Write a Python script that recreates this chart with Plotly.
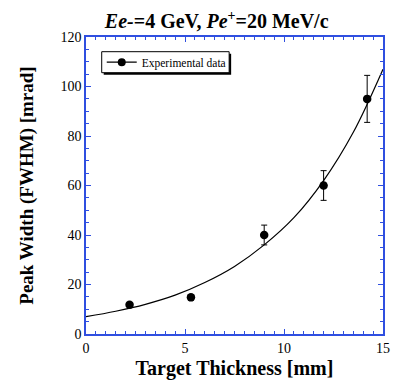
import plotly.graph_objects as go

# Experimental data
thickness = [2.2, 5.3, 9.0, 12.0, 14.2]
width = [11.8, 14.8, 40.0, 60.0, 95.0]
width_err = [0.8, 1.0, 4.0, 6.0, 9.5]

# Fit curve
fit_x = [0, 1.5, 3, 4.5, 6, 7.5, 9, 10.5, 12, 13.5, 15]
fit_y = [7.0, 9.2, 12.0, 15.7, 20.8, 27.3, 36.0, 47.0, 62.0, 81.5, 107.0]

x_ticks = [0, 5, 10, 15]
y_ticks = [0, 20, 40, 60, 80, 100, 120]

FONT = "Liberation Serif"
FRAME = "#2f4fe0"

fig = go.Figure()
fig.add_trace(go.Scatter(x=fit_x, y=fit_y, mode="lines", line=dict(color="black", width=1.2, shape="spline"),
                         showlegend=False, hoverinfo="skip"))
fig.add_trace(go.Scatter(x=thickness, y=width, mode="markers",
                         marker=dict(color="black", size=8.5),
                         error_y=dict(type="data", array=width_err, color="black", thickness=1, width=3),
                         showlegend=False))
fig.add_trace(go.Scatter(x=[None], y=[None], mode="lines+markers", name="Experimental data",
                         line=dict(color="black", width=1.2), marker=dict(color="black", size=8)))

axis_common = dict(showline=True, linecolor=FRAME, linewidth=1.5, mirror="allticks",
                   ticks="inside", tickcolor=FRAME, ticklen=5, tickwidth=1,
                   showgrid=False, zeroline=False, automargin=False,
                   tickfont=dict(family=FONT, size=14, color="black"))

fig.update_xaxes(range=[0, 15], tickvals=x_ticks, **axis_common,
                 minor=dict(dtick=0.5, ticks="inside", ticklen=3, tickcolor=FRAME),
                 title=dict(text="<b>Target Thickness [mm]</b>", font=dict(family=FONT, size=20, color="black"), standoff=6))
fig.update_yaxes(range=[0, 120], tickvals=y_ticks, **axis_common,
                 minor=dict(dtick=5, ticks="inside", ticklen=3, tickcolor=FRAME),
                 title=dict(text="<b>Peak Width (FWHM) [mrad]</b>", font=dict(family=FONT, size=19, color="black"), standoff=22))

# legend frame with drop shadow (paper coordinates)
fig.add_shape(type="rect", xref="paper", yref="paper", x0=0.0596, x1=0.4887, y0=0.873, y1=0.9438,
              fillcolor="black", line=dict(width=0), layer="above")
fig.add_shape(type="rect", xref="paper", yref="paper", x0=0.0529, x1=0.482, y0=0.8798, y1=0.9505,
              fillcolor="white", line=dict(width=1, color="black"), layer="above")

fig.update_layout(
    width=394, height=380,
    margin=dict(l=86, r=11, t=37, b=46),
    plot_bgcolor="white", paper_bgcolor="white",
    title=dict(text="<b><i>Ee-</i>=4 GeV, <i>Pe</i><sup>+</sup>=20 MeV/c</b>",
               font=dict(family=FONT, size=20, color="black"), x=0.55, xanchor="center", y=0.945, yanchor="middle"),
    legend=dict(x=0.053, y=0.964, xanchor="left", yanchor="top", bgcolor="rgba(0,0,0,0)",
                borderwidth=0, font=dict(family=FONT, size=11.5, color="black"),
                itemwidth=30, tracegroupgap=0),
    showlegend=True,
)

fig.write_html("out.html", config={"displayModeBar": False},
               post_script="document.body.style.margin='0';document.body.style.overflow='hidden';")
